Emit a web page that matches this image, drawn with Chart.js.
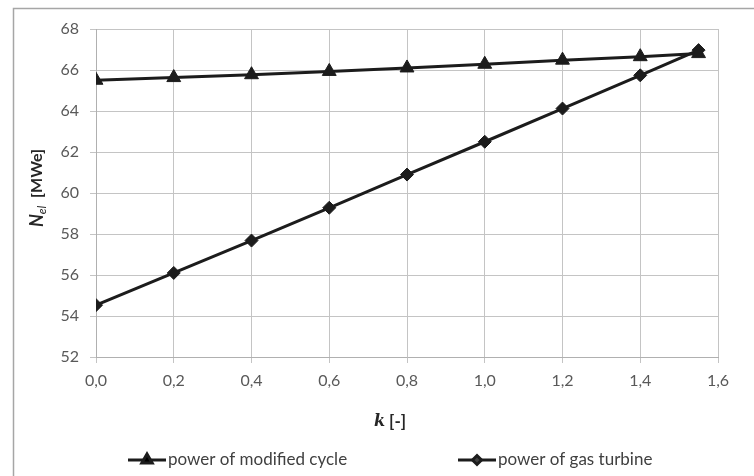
<!DOCTYPE html>
<html><head><meta charset="utf-8">
<script src="https://cdn.jsdelivr.net/npm/chart.js@4/dist/chart.umd.min.js"></script>
<style>html,body{margin:0;padding:0;background:#fff}#wrap{width:754px;height:476px;position:relative}</style>
</head><body><div id="wrap"><canvas id="c" width="754" height="476"></canvas></div>
<script>
const kValues = [0, 0.2, 0.4, 0.6, 0.8, 1.0, 1.2, 1.4, 1.55];
const modifiedCycle = [65.5, 65.63, 65.77, 65.93, 66.1, 66.28, 66.48, 66.65, 66.8];
const gasTurbine = [54.53, 56.1, 57.68, 59.28, 60.9, 62.5, 64.12, 65.74, 66.97];
const seriesNames = ["power of modified cycle", "power of gas turbine"];
const xTitle = ["k", " [-]"];
const yTitle = ["N", "el", "  [MWe]"];

const FONT = "Lato, 'Open Sans', sans-serif";
const LINE = "#1c1c1c";

const decor = {
  id: 'decor',
  beforeDraw(chart) {
    const ctx = chart.ctx;
    ctx.save();
    ctx.strokeStyle = '#a6a6a6';
    ctx.lineWidth = 1.5;
    ctx.beginPath();
    ctx.moveTo(13.5, 476); ctx.lineTo(13.5, 8.5); ctx.lineTo(754, 8.5);
    ctx.stroke();
    ctx.restore();
  },
  afterDraw(chart) {
    const ctx = chart.ctx;
    ctx.save();
    // x title
    ctx.fillStyle = '#262626';
    ctx.textBaseline = 'middle';
    ctx.font = "italic bold 16px 'DejaVu Serif', serif";
    let w1 = ctx.measureText(xTitle[0]).width;
    ctx.font = "bold 17px " + FONT;
    let w2 = ctx.measureText(xTitle[1]).width;
    let x0 = 390 - (w1 + w2) / 2;
    ctx.font = "italic bold 16px 'DejaVu Serif', serif";
    ctx.textAlign = 'left';
    ctx.fillText(xTitle[0], x0, 422);
    ctx.font = "bold 17px " + FONT;
    ctx.fillText(xTitle[1], x0 + w1, 422);
    // y title rotated
    ctx.translate(37, 188);
    ctx.rotate(-Math.PI / 2);
    ctx.font = "italic bold 18px " + FONT;
    const a = ctx.measureText(yTitle[0]).width;
    ctx.font = "italic 12px " + FONT;
    const b = ctx.measureText(yTitle[1]).width;
    ctx.font = "bold 16px " + FONT;
    const c = ctx.measureText(yTitle[2]).width;
    let s = -(a + b + c) / 2;
    ctx.font = "italic bold 18px " + FONT;
    ctx.fillText(yTitle[0], s, 0);
    ctx.font = "italic 12px " + FONT;
    ctx.fillText(yTitle[1], s + a, 5);
    ctx.font = "bold 16px " + FONT;
    ctx.fillText(yTitle[2], s + a + b, 0);
    ctx.restore();
    // legend
    const ly = 460;
    const items = [{x: 128, ds: chart.data.datasets[0]}, {x: 458, ds: chart.data.datasets[1]}];
    ctx.save();
    items.forEach(it => {
      ctx.strokeStyle = LINE; ctx.lineWidth = 3;
      ctx.beginPath(); ctx.moveTo(it.x, ly); ctx.lineTo(it.x + 38, ly); ctx.stroke();
      Chart.helpers.drawPoint(ctx, {pointStyle: it.ds.pointStyle, radius: it.ds.pointStyle === 'triangle' ? 6 : 4.5, borderWidth: 1}, it.x + 19, ly);
      ctx.fillStyle = '#404040';
      ctx.font = "17px " + FONT;
      ctx.textAlign = 'left'; ctx.textBaseline = 'middle';
      ctx.fillText(it.ds.label, it.x + 40, ly);
    });
    ctx.restore();
  }
};

const toPts = (ys) => kValues.map((k, i) => ({x: k, y: ys[i]}));

new Chart(document.getElementById('c'), {
  type: 'line',
  data: {
    datasets: [
      {label: seriesNames[0], data: toPts(modifiedCycle), borderColor: LINE, backgroundColor: LINE,
       borderWidth: 3, pointStyle: 'triangle', pointRadius: 8, pointBorderWidth: 1, pointBackgroundColor: LINE, pointBorderColor: LINE},
      {label: seriesNames[1], data: toPts(gasTurbine), borderColor: LINE, backgroundColor: LINE,
       borderWidth: 3, pointStyle: 'rectRot', pointRadius: 6.5, pointBorderWidth: 1, pointBackgroundColor: LINE, pointBorderColor: LINE}
    ]
  },
  options: {
    responsive: false, animation: false,
    layout: {padding: {left: 0, right: 36, top: 29, bottom: 0}},
    plugins: {legend: {display: false}, tooltip: {enabled: false}},
    scales: {
      x: {type: 'linear', min: 0, max: 1.6,
          ticks: {stepSize: 0.2, color: '#595959', font: {size: 16, family: FONT}, padding: 8,
                  callback: v => v.toFixed(1).replace('.', ',')},
          grid: {color: '#c4c4c4', lineWidth: 1, tickLength: 6},
          border: {color: '#b0b0b0', width: 1},
          afterFit: s => { s.height = 119; }},
      y: {min: 52, max: 68,
          ticks: {stepSize: 2, color: '#595959', font: {size: 16, family: FONT}, padding: 11},
          grid: {color: '#c4c4c4', lineWidth: 1, tickLength: 6},
          border: {color: '#b0b0b0', width: 1},
          afterFit: s => { s.width = 96; }}
    }
  },
  plugins: [decor]
});
</script></body></html>
